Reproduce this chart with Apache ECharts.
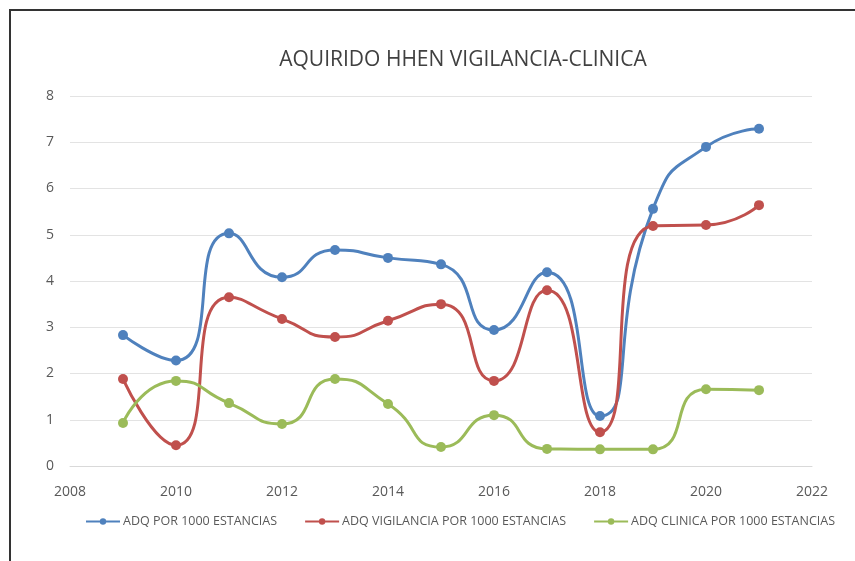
<!DOCTYPE html>
<html>
<head>
<meta charset="utf-8">
<script src="https://cdn.jsdelivr.net/npm/echarts@6/dist/echarts.min.js"></script>
<style>
  html, body { margin: 0; padding: 0; background: #ffffff; }
  #main { width: 855px; height: 561px; }
</style>
</head>
<body>
<div id="main"></div>
<script>
const years = [2009, 2010, 2011, 2012, 2013, 2014, 2015, 2016, 2017, 2018, 2019, 2020, 2021];
const adqTotal = [2.83, 2.28, 5.03, 4.08, 4.67, 4.5, 4.36, 2.94, 4.19, 1.08, 5.56, 6.9, 7.29];
const adqVigilancia = [1.88, 0.45, 3.65, 3.18, 2.79, 3.14, 3.5, 1.84, 3.8, 0.73, 5.19, 5.21, 5.64];
const adqClinica = [0.93, 1.84, 1.36, 0.91, 1.88, 1.34, 0.41, 1.1, 0.37, 0.36, 0.36, 1.66, 1.64];
const seriesNames = ['ADQ POR 1000 ESTANCIAS', 'ADQ VIGILANCIA POR 1000 ESTANCIAS', 'ADQ CLINICA POR 1000 ESTANCIAS'];
const seriesColors = ['#4f81bd', '#c0504d', '#9bbb59'];

const pairs = vals => years.map((y, i) => [y, vals[i]]);

const chart = echarts.init(document.getElementById('main'));
const font = '"Open Sans", "Noto Sans", sans-serif';

chart.setOption({
    backgroundColor: '#ffffff',
    animation: false,
    title: {
        text: 'AQUIRIDO HHEN VIGILANCIA-CLINICA',
        left: 458,
        top: 45,
        textAlign: 'center',
        textStyle: {
            fontFamily: font,
            fontSize: 21,
            fontWeight: 'normal',
            color: '#404040'
        }
    },
    grid: {
        left: 70,
        right: 43,
        top: 96,
        bottom: 95
    },
    legend: {
        left: 85,
        top: 515,
        width: 770,
        padding: 0,
        itemWidth: 34,
        itemHeight: 8,
        itemGap: 27,
        textStyle: {
            fontFamily: font,
            fontSize: 12.5,
            color: '#595959',
            padding: [0, 0, 0, -2]
        },
        data: seriesNames
    },
    xAxis: {
        type: 'value',
        min: 2008,
        max: 2022,
        interval: 2,
        axisLine: { show: true, lineStyle: { color: '#d9d9d9' } },
        axisTick: { show: false },
        splitLine: { show: false },
        axisLabel: {
            margin: 19,
            fontFamily: font,
            fontSize: 14,
            color: '#595959',
            formatter: v => String(v)
        }
    },
    yAxis: {
        type: 'value',
        min: 0,
        max: 8,
        interval: 1,
        axisLine: { show: false },
        axisTick: { show: false },
        splitLine: { lineStyle: { color: '#e3e3e3', width: 1 } },
        axisLabel: {
            margin: 16,
            fontFamily: font,
            fontSize: 14,
            color: '#595959'
        }
    },
    graphic: [{
        type: 'polyline',
        shape: { points: [[10, 561], [10, 10], [855, 10]] },
        style: { stroke: '#333333', lineWidth: 2, fill: null }
    }],
    series: [adqTotal, adqVigilancia, adqClinica].map((vals, i) => ({
        name: seriesNames[i],
        type: 'line',
        smooth: 0.6,
        symbol: 'circle',
        symbolSize: 10,
        data: pairs(vals),
        itemStyle: { color: seriesColors[i] },
        lineStyle: { color: seriesColors[i], width: 3 }
    }))
});
</script>
</body>
</html>
